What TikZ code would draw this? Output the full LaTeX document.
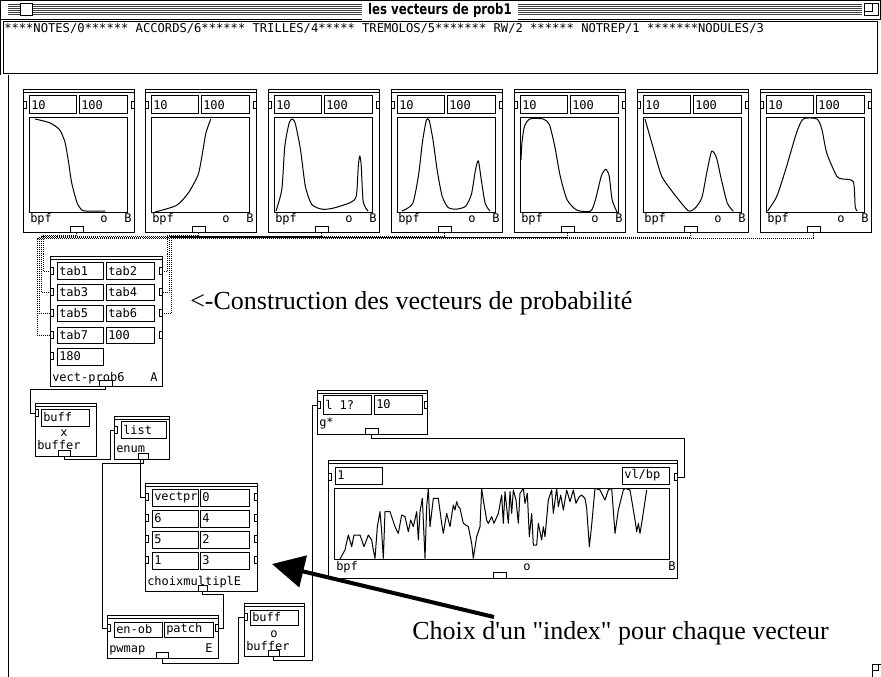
\documentclass[tikz,border=0pt]{standalone}
\usepackage{fontspec}
\newfontfamily\annf{Liberation Serif}
\newfontfamily\monof{DejaVu Sans Mono}
\newfontfamily\titlef[FakeStretch=0.8]{DejaVu Sans}
\usetikzlibrary{arrows.meta,calc}
\tikzset{
  rect/.style={draw, line width=0.75pt, inner sep=0pt, outer sep=0pt, anchor=north west, fill=white},
  mono/.style={font=\monof\fontsize{9}{10}\selectfont, inner sep=0pt},
  wire/.style={draw, line width=0.75pt},
  dots/.style={draw, line width=0.75pt, dash pattern=on 0.75pt off 0.75pt},
  bpfline/.style={line width=0.75pt, line join=round},
  ann/.style={font=\annf\fontsize{19.5}{22}\selectfont, inner sep=0pt, anchor=base west},
  stripe/.style={line width=0.75pt, black!75},
}
\newcommand\pwBox[5]{\node[rect,minimum width={(#4)*0.75pt},minimum height={(#5)*0.75pt}] (#1) at (#2,#3) {};}
\newcommand\pwFld[6]{\pwBox{#1}{#2}{#3}{#4}{#5}\node[mono,anchor=west] (#1t) at ([xshift=1.5pt]#1.west) {#6};}
\newcommand\pwBar[1]{\draw[line width=0.75pt] ([yshift=-2.25pt]#1.north west) -- ([yshift=-2.25pt]#1.north east);}
\newcommand\pwInL[3]{\node[rect,minimum width=2.25pt,minimum height=5.25pt,anchor=west] (#1) at (#2,#3) {};}
\newcommand\pwInR[3]{\node[rect,minimum width=2.25pt,minimum height=5.25pt,anchor=east] (#1) at (#2,#3) {};}
\newcommand\pwOut[4]{\node[draw,line width=0.75pt,inner sep=0pt,outer sep=0pt,minimum width={(#4)*0.75pt},minimum height=4.5pt,anchor=south west] (#1) at (#2,#3) {};}
\newcommand\pwBpf[3]{%
 \pwBox{#1}{#2}{90}{111}{143}
 \pwBar{#1}
 \pwFld{#1a}{#2+6}{96}{47}{18}{10}
 \pwFld{#1b}{#2+56}{96}{48}{18}{100}
 \pwBox{#1g}{#2+6}{118}{98}{95}
 \begin{scope}[shift={(#2+6,213)},x=73.5pt,y=71.25pt]
   \draw[bpfline] plot[smooth,tension=0.4] coordinates {#3};
 \end{scope}
 \node[mono,anchor=base west] (#1l) at (#2+7,223) {bpf};
 \node[mono,anchor=base west] (#1c) at (#2+77,223) {o};
 \node[mono,anchor=base west] (#1d) at (#2+101,223) {B};
 \pwOut{#1o}{#2+47}{233}{13}
 \pwInL{#1i}{#2}{105}
 \pwInR{#1j}{#2+111}{105}
}
\begin{document}
\begin{tikzpicture}[x=0.75pt,y=-0.75pt]
\useasboundingbox (0,0) rectangle (881,677);
\fill[white] (0,0) rectangle (881,677);
% window frame and title bar
\foreach \yy in {5,7,...,15} \draw[stripe] (8,\yy) -- (862,\yy);
\draw[line width=0.75pt] (0.5,0.5) rectangle (880.5,19.5);
\node[rect,minimum width=9pt,minimum height=9pt] (closebox) at (20,4) {};
\node[rect,minimum width=10.5pt,minimum height=9pt] (zoombox) at (864,4) {};
\node[rect,minimum width=6pt,minimum height=6pt] (zoomin) at (864,4) {};
\node[fill=white, inner xsep=5pt, inner ysep=1.5pt, font=\titlef\bfseries\fontsize{11}{12}\selectfont] (ttl) at (440,10.5) {les vecteurs de prob1};
\draw[line width=0.75pt] (0.5,19.5) -- (0.5,75);
\node[rect,minimum width={874*0.75pt},minimum height={52*0.75pt}] (hdrbox) at (3,22) {};
\node[mono,font=\monof\fontsize{9.1}{10}\selectfont,anchor=base west] (hdr) at (4,33) {****NOTES/0****** ACCORDS/6****** TRILLES/4***** TREMOLOS/5******* RW/2 ****** NOTREP/1 *******NODULES/3};
\draw[line width=0.75pt] (8,75) -- (8,677);
\node[rect,minimum width=9pt,minimum height=10pt] (grow) at (872,664) {};
\node[rect,minimum width=5pt,minimum height=5pt] (growin) at (872,664) {};

% seven bpf boxes
\pwBpf{b1}{23}{(0.06,0.99) (0.21,0.95) (0.31,0.88) (0.366,0.75) (0.40,0.56) (0.435,0.32) (0.49,0.11) (0.54,0.03) (0.6,0.02) (0.78,0.02)}
\pwBpf{b2}{145}{(0.04,0.01) (0.26,0.08) (0.38,0.21) (0.48,0.40) (0.52,0.60) (0.56,0.84) (0.61,0.99)}
\pwBpf{b3}{268}{(0.02,0.02) (0.08,0.25) (0.11,0.7) (0.155,0.95) (0.19,0.99) (0.22,0.93) (0.27,0.67) (0.32,0.28) (0.385,0.09) (0.49,0.04) (0.6,0.05) (0.78,0.11) (0.84,0.18) (0.86,0.49) (0.875,0.6) (0.89,0.5) (0.91,0.12) (0.96,0.02)}
\pwBpf{b4}{391}{(0.05,0.02) (0.16,0.1) (0.22,0.4) (0.26,0.75) (0.3,0.98) (0.33,0.97) (0.37,0.75) (0.41,0.45) (0.46,0.18) (0.52,0.06) (0.6,0.04) (0.7,0.07) (0.76,0.2) (0.8,0.45) (0.83,0.55) (0.86,0.35) (0.9,0.1) (0.95,0.02)}
\pwBpf{b5}{514}{(0.01,0.56) (0.02,0.74) (0.045,0.91) (0.1,0.99) (0.235,0.99) (0.3,0.93) (0.355,0.70) (0.41,0.39) (0.48,0.14) (0.58,0.03) (0.72,0.02) (0.77,0.14) (0.83,0.39) (0.875,0.46) (0.91,0.39) (0.94,0.14) (0.99,0.01)}
\pwBpf{b6}{637}{(0.02,0.99) (0.1,0.70) (0.19,0.39) (0.31,0.21) (0.46,0.025) (0.53,0.05) (0.6,0.16) (0.65,0.42) (0.7,0.65) (0.75,0.58) (0.8,0.35) (0.86,0.105) (0.92,0.02)}
\pwBpf{b7}{760}{(0.015,0.02) (0.11,0.175) (0.21,0.49) (0.31,0.84) (0.38,0.99) (0.52,0.99) (0.57,0.88) (0.62,0.63) (0.72,0.39) (0.77,0.36) (0.89,0.33) (0.91,0.07) (0.93,0.02)}

% vect-prob6
\pwBox{V}{50}{257}{112}{129}
\pwBar{V}
\pwFld{Va}{57}{263}{46}{16}{tab1}
\pwFld{Vb}{106}{263}{48}{16}{tab2}
\pwFld{Vc}{57}{284}{46}{16}{tab3}
\pwFld{Vd}{106}{284}{48}{16}{tab4}
\pwFld{Ve}{57}{305}{46}{16}{tab5}
\pwFld{Vf}{106}{305}{48}{16}{tab6}
\pwFld{Vg}{57}{327}{46}{16}{tab7}
\pwFld{Vh}{106}{327}{48}{16}{100}
\pwFld{Vk}{57}{348}{46}{17}{180}
\node[mono,anchor=base west] (Vl) at (52,381) {vect-prob6};
\node[mono,anchor=base west] (Vm) at (150,381) {A};
\pwOut{Vo}{99}{386}{13}
\pwInL{vi1}{50}{271}
\pwInL{vi3}{50}{292}
\pwInL{vi5}{50}{313}
\pwInL{vi7}{50}{335}
\pwInL{vi9}{50}{356}
\pwInR{vr1}{162}{271}
\pwInR{vr2}{162}{292}
\pwInR{vr3}{162}{313}
\pwInR{vr4}{162}{335}

% dotted connections
\draw[dots] (b1o.south) |- (43,236) |- (vi1.west);
\draw[dots] (b3o.south) |- (41,237) |- (vi3.west);
\draw[dots] (b5o.south) |- (39,238) |- (vi5.west);
\draw[dots] (b7o.south) |- (37,239) |- (vi7.west);
\draw[dots] (b2o.south) |- (167,236) |- (vr1.east);
\draw[dots] (b4o.south) |- (169,237) |- (vr2.east);
\draw[dots] (b6o.south) |- (171,238) |- (vr3.east);

% buffer x
\pwBox{BX}{35}{403}{61}{53}
\pwBar{BX}
\pwFld{BXa}{41}{409}{48}{17}{buff}
\node[mono,anchor=base] (BXx) at (64,436) {x};
\node[mono,anchor=base west] (BXl) at (37,449) {buffer};
\pwOut{BXo}{58}{456}{12}
\pwInL{BXi}{35}{413}

% enum
\pwBox{EN}{114}{416}{55}{43}
\pwBar{EN}
\pwFld{ENa}{121}{421}{45}{17}{list}
\node[mono,anchor=base west] (ENl) at (116,452) {enum};
\pwOut{ENo}{138}{459}{10}
\pwInL{ENi}{114}{430}

% choixmultiple
\pwBox{CH}{145}{483}{112}{108}
\pwBar{CH}
\pwFld{CHa}{152}{489}{46}{17}{vectpr}
\pwFld{CHb}{200}{489}{49}{17}{0}
\pwFld{CHc}{152}{510}{46}{17}{6}
\pwFld{CHd}{200}{510}{49}{17}{4}
\pwFld{CHe}{152}{531}{46}{17}{5}
\pwFld{CHf}{200}{531}{49}{17}{2}
\pwFld{CHg}{152}{552}{46}{17}{1}
\pwFld{CHh}{200}{552}{49}{17}{3}
\node[mono,anchor=base west] (CHl) at (147,585) {choixmultiplE};
\pwOut{CHo}{198}{591}{9}
\pwInL{CHi1}{145}{497}
\pwInL{CHi2}{145}{518}
\pwInL{CHi3}{145}{539}
\pwInL{CHi4}{145}{560}
\pwInR{CHr1}{257}{497}
\pwInR{CHr2}{257}{518}
\pwInR{CHr3}{257}{539}
\pwInR{CHr4}{257}{560}

% pwmap
\pwBox{PW}{107}{615}{111}{43}
\pwBar{PW}
\pwFld{PWa}{114}{622}{48}{15}{en-ob}
\pwFld{PWb}{164}{622}{49}{15}{patch}
\node[mono,anchor=base west] (PWl) at (109,652) {pwmap};
\node[mono,anchor=base west] (PWe) at (205,652) {E};
\pwOut{PWo}{156}{658}{12}
\pwInL{PWi}{107}{628}
\pwInR{PWr}{218}{628}

% buffer o
\pwBox{BO}{244}{603}{60}{53}
\pwBar{BO}
\pwFld{BOa}{250}{610}{48}{15}{buff}
\node[mono,anchor=base] (BOx) at (274,637) {o};
\node[mono,anchor=base west] (BOl) at (246,650) {buffer};
\pwOut{BOo}{268}{656}{11}
\pwInL{BOi}{244}{617}

% g*
\pwBox{G}{317}{390}{110}{44}
\pwBar{G}
\pwFld{Ga}{323}{395}{48}{19}{l 1?}
\pwFld{Gb}{374}{395}{48}{19}{10}
\node[mono,anchor=base west] (Gl) at (319,426) {g*};
\pwOut{Go}{365}{434}{13}
\pwInL{Gi}{317}{405}
\pwInR{Gr}{427}{405}

% big bpf
\pwBox{BB}{328}{460}{349}{118}
\pwBar{BB}
\pwFld{BBa}{335}{467}{47}{17}{1}
\pwFld{BBb}{622}{467}{47}{17}{vl/bp}
\pwBox{BBg}{334}{488}{335}{71}
\begin{scope}[shift={(290,380)},x=0.25pt,y=-0.25pt]
\draw[bpfline] plot coordinates {(150,537) (165,510) (175,465) (185,500) (192,465) (210,465) (222,500) (235,465) (245,480) (250,510) (255,535) (262,440) (270,395) (275,455) (280,535) (285,395) (300,395) (315,440) (325,460) (335,405) (345,410) (355,455) (362,420) (370,440) (380,395) (385,480) (390,395) (397,355) (405,535) (410,380) (415,325) (420,440) (430,355) (445,355) (455,430) (460,460) (470,400) (480,440) (490,375) (495,390) (500,365) (505,380) (510,385) (520,430) (535,440) (545,490) (550,535) (560,470) (570,440) (575,325) (580,360) (590,420) (595,430) (605,410) (612,430) (625,400) (635,345) (640,430) (645,335) (655,430) (660,335) (665,400) (670,330) (678,360) (685,430) (690,340) (700,325) (705,370) (712,340) (718,470) (725,400) (730,495) (740,495) (745,430) (755,480) (760,440) (765,470) (775,360) (785,330) (790,400) (800,325) (805,380) (812,345) (820,390) (830,330) (840,365) (850,330) (858,370) (868,350) (875,345) (885,355) (890,385) (898,500) (905,435) (915,325) (930,330) (945,360) (955,330) (965,325) (975,460) (985,390) (1000,330) (1005,325) (1020,330) (1035,420) (1040,455) (1045,430) (1050,460) (1055,430) (1070,330)};
\end{scope}
\node[mono,anchor=base west] (BBl) at (336,570) {bpf};
\node[mono,anchor=base west] (BBc) at (523,570) {o};
\node[mono,anchor=base west] (BBd) at (668,570) {B};
\pwOut{BBo}{493}{578}{13}
\pwInL{BBi}{328}{477}
\pwInR{BBr}{677}{477}

% wires
\draw[wire] (Vo.south) |- (30,389) |- (BXi.west);
\draw[wire] (BXo.south) |- (110,459) |- (ENi.west);
\draw[wire] ([xshift=-2.25pt]ENo.south) |- (CHi1.west);
\draw[wire] (ENo.south) |- (102,463) |- (PWi.west);
\draw[wire] (CHo.south) |- (223,594) |- (PWr.east);
\draw[wire] (PWo.south) |- (238,663) |- (BOi.west);
\draw[wire] (BOo.south) |- (312,660) |- (Gi.west);
\draw[wire] (Go.south) |- (684,438) |- (BBr.east);

% annotations
\node[ann] (ann1) at (190,309) {<-Construction des vecteurs de probabilité};
\node[ann] (ann2) at (412,639) {Choix d'un "index" pour chaque vecteur};
\coordinate (arrtail) at (494,617);
\coordinate (arrtip) at (272,564);
\draw[line width=3pt, -{Triangle[length=24pt,width=24pt]}] (arrtail) -- (arrtip);
\end{tikzpicture}
\end{document}
